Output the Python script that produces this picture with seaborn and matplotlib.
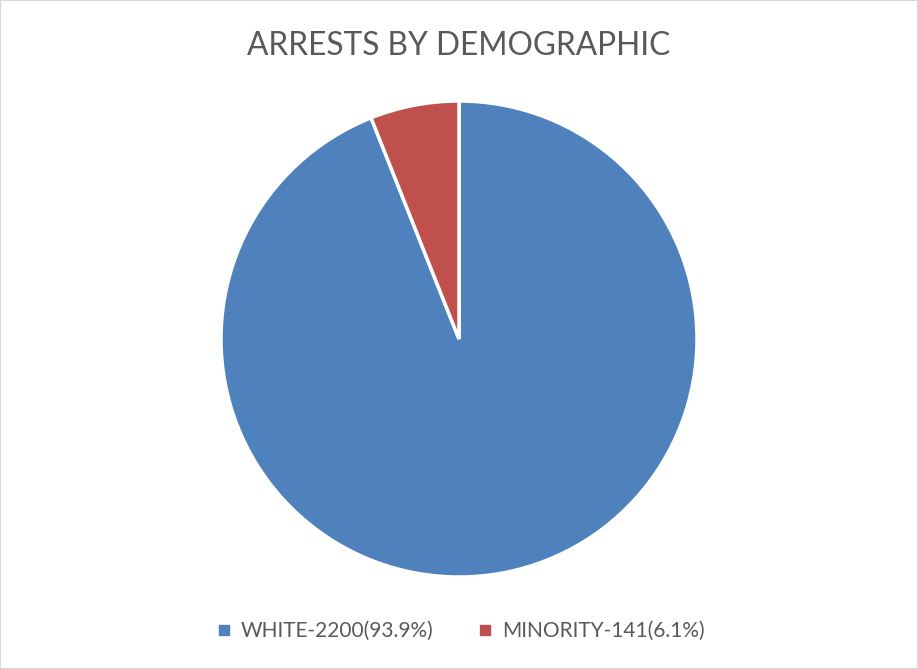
import seaborn as sns
import matplotlib.pyplot as plt
from matplotlib.patches import Rectangle
from matplotlib.lines import Line2D

groups = ['WHITE', 'MINORITY']
arrests = [2200, 141]
shares = ['93.9%', '6.1%']
colors = sns.color_palette(['#4F81BD', '#C0504D'])


def main() -> None:
    sns.set_theme(style='white')
    plt.rcParams['font.family'] = ['Lato', 'DejaVu Sans']

    fig = plt.figure(figsize=(9.18, 6.69), dpi=100)
    fig.patches.append(Rectangle((0, 0), 1, 1, transform=fig.transFigure,
                                 fill=False, edgecolor='#D9D9D9', linewidth=1.5))

    ax = fig.add_axes([221 / 918, 92 / 669, 476 / 918, 476 / 669])
    ax.pie(arrests, colors=colors, startangle=90, counterclock=False,
           wedgeprops=dict(edgecolor='white', linewidth=2.5))
    ax.set_xlim(-1, 1)
    ax.set_ylim(-1, 1)
    ax.set_aspect('equal')

    fig.text(0.5, 1 - 46 / 669, 'ARRESTS BY DEMOGRAPHIC', ha='center', va='center',
             fontsize=22.8, color='#595959')

    labels = [f'{g}-{n}({s})' for g, n, s in zip(groups, arrests, shares)]
    handles = [Line2D([], [], marker='s', linestyle='', markersize=7, color=c) for c in colors]
    fig.legend(handles, labels, loc='center', bbox_to_anchor=(0.5, 1 - 631 / 669),
               ncol=2, frameon=False, fontsize=15, labelcolor='#595959',
               handletextpad=0.3, columnspacing=2.0, handlelength=1.0)

    fig.savefig('out.png', dpi=100)


if __name__ == "__main__":
    main()
